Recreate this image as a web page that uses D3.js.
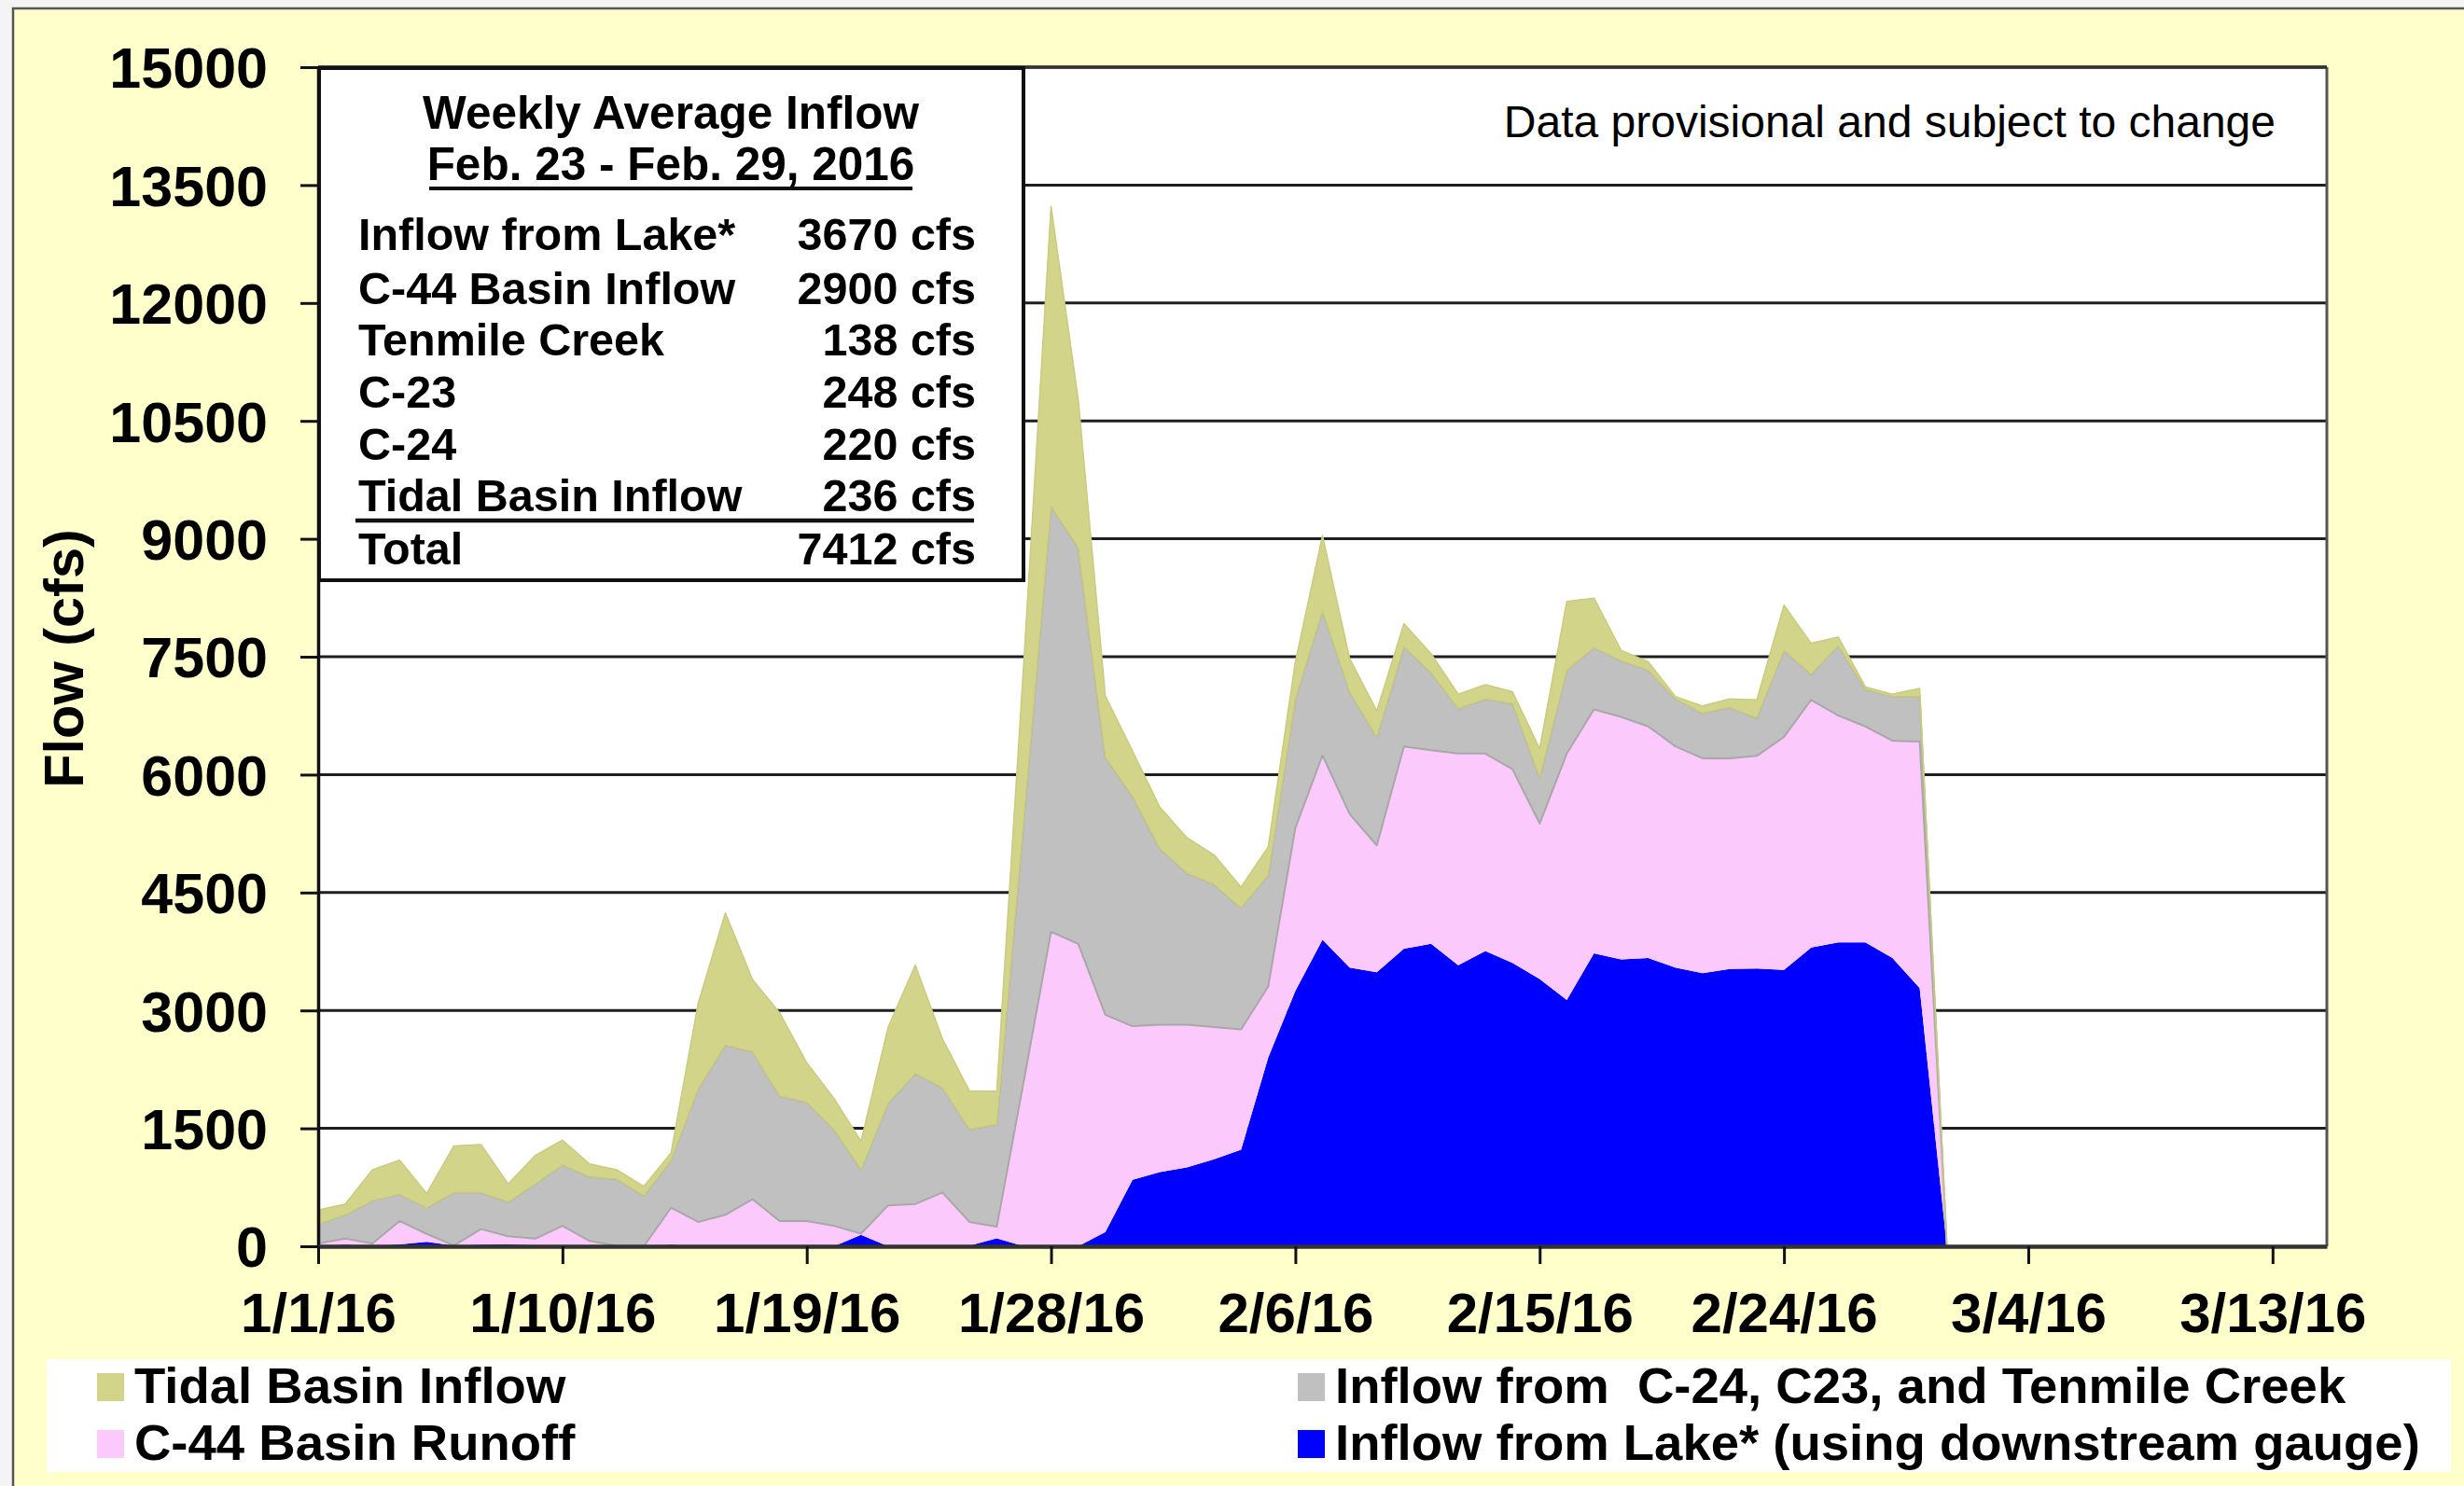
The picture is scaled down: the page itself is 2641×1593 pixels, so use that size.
<!DOCTYPE html>
<html>
<head>
<meta charset="utf-8">
<script src="https://cdn.jsdelivr.net/npm/d3@7"></script>
<style>
html, body { margin: 0; padding: 0; background: #f4f4f4; }
svg { display: block; }
text { font-family: "Liberation Sans", Arial, sans-serif; }
</style>
</head>
<body>
<svg id="chart" width="2641" height="1593"></svg>
<script>
// ---------------- DATA ----------------
const startDate = "2016-01-01";           // first daily value
const endDate = "2016-03-15";             // end of the date axis
const xTickLabels = ["1/1/16","1/10/16","1/19/16","1/28/16","2/6/16","2/15/16","2/24/16","3/4/16","3/13/16"];
const yTicks = [0,1500,3000,4500,6000,7500,9000,10500,12000,13500,15000];

// daily flows (cfs), 1/1/16 ... 3/1/16
const lakeInflow = [5,20,5,25,55,10,20,25,15,0, 0,0,0,20,0,0,0,0,15,0,
  145,0,0,0,10,100,0,0,0,180, 845,944,1004,1107,1228,2400,3250,3900,3545,3485,
  3787,3848,3576,3757,3606,3400,3134,3727,3650,3666, 3545,3473,3527,3533,3515,3799,3866,3866,3666,3285, 0];
const c44Runoff = [31,77,31,296,102,0,198,102,82,260, 67,6,0,470,309,400,599,321,306,260,
  15,520,538,684,299,148,2110,4000,3848,2765, 1955,1875,1815,1682,1531,904,2070,2345,1955,1615,
  2572,2462,2692,2511,2462,1978,3134,3103,3084,2947, 2814,2734,2680,2705,2965,3152,2886,2747,2765,3134, 0];
const c24c23Tenmile = [242,303,545,339,333,674,466,436,696,775, 816,847,641,605,1694,2159,1875,1591,1512,1228,
  814,1301,1658,1331,1179,1301,3340,5415,5042,3275, 2925,2246,1931,1815,1546,1419,1646,1840,1555,1379,
  1270,987,574,695,835,587,1059,787,714,714, 605,575,648,484,1101,327,889,472,563,575, 0];
const tidalInflow = [182,138,393,435,182,593,611,230,363,315, 164,121,121,91,1089,1682,920,1058,502,394,
  363,968,1380,623,484,423,2000,3815,1887,780, 575,525,450,376,265,357,471,955,423,333,
  291,242,182,182,152,365,877,629,133,108, 30,91,109,229,574,393,109,30,30,103, 0];

const seriesKeys = ["lake","c44","c24","tidal"];
const seriesColors = {lake:"#0000FF", c44:"#FCC9FC", c24:"#C0C0C0", tidal:"#D2D589"};

const tableTitle = ["Weekly Average Inflow", "Feb. 23 - Feb. 29, 2016"];
const tableRows = [
  ["Inflow from Lake*", "3670 cfs"],
  ["C-44 Basin Inflow", "2900 cfs"],
  ["Tenmile Creek", "138 cfs"],
  ["C-23", "248 cfs"],
  ["C-24", "220 cfs"],
  ["Tidal Basin Inflow", "236 cfs"],
  ["Total", "7412 cfs"]
];
const legendItems = [
  {key:"tidal", label:"Tidal Basin Inflow"},
  {key:"c24", label:"Inflow from  C-24, C23, and Tenmile Creek"},
  {key:"c44", label:"C-44 Basin Runoff"},
  {key:"lake", label:"Inflow from Lake* (using downstream gauge)"}
];

// ---------------- BUILD ----------------
const parse = d3.timeParse("%Y-%m-%d");
const d0 = parse(startDate);
const table = lakeInflow.map((v, i) => ({
  date: d3.timeDay.offset(d0, i),
  lake: v, c44: c44Runoff[i], c24: c24c23Tenmile[i], tidal: tidalInflow[i]
}));
const tickParse = d3.timeParse("%m/%d/%y");
const xTickDates = xTickLabels.map(s => tickParse(s));

const svg = d3.select("#chart");
const W = 2641, H = 1593;
const plot = {left: 341, right: 2494, top: 72, bottom: 1336};

// outer chart area
svg.append("rect").attr("x", 14).attr("y", 9).attr("width", W).attr("height", H)
  .attr("fill", "#FFFFCC").attr("stroke", "#555").attr("stroke-width", 2.5);

const x = d3.scaleTime().domain([d0, parse(endDate)]).range([plot.left, plot.right]);
const y = d3.scaleLinear().domain([0, 15000]).range([plot.bottom, plot.top]);

// plot background
svg.append("rect").attr("x", plot.left).attr("y", plot.top)
  .attr("width", plot.right - plot.left).attr("height", plot.bottom - plot.top)
  .attr("fill", "#ffffff");

// gridlines
svg.append("g").selectAll("line").data(yTicks.filter(d => d > 0)).join("line")
  .attr("x1", plot.left).attr("x2", plot.right)
  .attr("y1", d => y(d)).attr("y2", d => y(d))
  .attr("stroke", "#1e1e1e").attr("stroke-width", 3);

// stacked areas
const stack = d3.stack().keys(seriesKeys);
const layers = stack(table);
const area = d3.area()
  .x(d => x(d.data.date))
  .y0(d => y(d[0]))
  .y1(d => y(d[1]));
svg.append("g").selectAll("path").data(layers).join("path")
  .attr("d", area)
  .attr("fill", d => seriesColors[d.key])
  .attr("stroke", d => d.key === "c24" ? "#A8A8A8" : (d.key === "tidal" ? "#C8CB80" : "none"))
  .attr("stroke-width", d => d.key === "c24" ? 2 : 1.5)
  .attr("stroke-linejoin", "round");

// plot border (right and top)
svg.append("line").attr("x1", plot.right).attr("x2", plot.right)
  .attr("y1", plot.top).attr("y2", plot.bottom)
  .attr("stroke", "#555").attr("stroke-width", 3);
svg.append("line").attr("x1", plot.left).attr("x2", plot.right)
  .attr("y1", plot.top).attr("y2", plot.top)
  .attr("stroke", "#333").attr("stroke-width", 3.5);

// y axis
const yAxis = svg.append("g").attr("transform", `translate(${plot.left},0)`)
  .call(d3.axisLeft(y).tickValues(yTicks).tickSize(19).tickSizeOuter(0).tickFormat(d3.format("d")));
yAxis.select(".domain").attr("stroke", "#111").attr("stroke-width", 3.5);
yAxis.selectAll(".tick line").attr("stroke", "#111").attr("stroke-width", 3);
yAxis.selectAll(".tick text")
  .attr("x", -54).attr("dy", "0.36em")
  .attr("font-size", 61).attr("font-weight", "bold").attr("fill", "#000");

// x axis
const xAxis = svg.append("g").attr("transform", `translate(0,${plot.bottom})`)
  .call(d3.axisBottom(x).tickValues(xTickDates).tickSize(19).tickSizeOuter(0)
    .tickFormat(d3.timeFormat("%-m/%-d/%y")));
xAxis.select(".domain").attr("stroke", "#333").attr("stroke-width", 4.5);
xAxis.selectAll(".tick line").attr("stroke", "#111").attr("stroke-width", 3);
xAxis.selectAll(".tick text")
  .attr("y", 92).attr("dy", 0)
  .attr("font-size", 60).attr("font-weight", "bold").attr("fill", "#000");

// y axis title
svg.append("text").attr("transform", "translate(89,706) rotate(-90)")
  .attr("text-anchor", "middle").attr("font-size", 59.5).attr("font-weight", "bold")
  .text("Flow (cfs)");

// provisional note
svg.append("text").attr("x", 2439).attr("y", 147).attr("text-anchor", "end")
  .attr("font-size", 48).text("Data provisional and subject to change");

// summary table box
const tb = svg.append("g");
tb.append("rect").attr("x", 342).attr("y", 73).attr("width", 755).attr("height", 549)
  .attr("fill", "#fff").attr("stroke", "#111").attr("stroke-width", 4);
tb.selectAll("text.title").data(tableTitle).join("text").attr("class", "title")
  .attr("x", 719).attr("y", (d, i) => 138 + i * 55)
  .attr("text-anchor", "middle").attr("font-size", 49.5).attr("font-weight", "bold").text(d => d);
tb.append("line").attr("x1", 460).attr("x2", 978).attr("y1", 202).attr("y2", 202)
  .attr("stroke", "#111").attr("stroke-width", 4);
const rowY = [268, 326, 381, 437, 493, 548, 605];
tb.selectAll("text.lab").data(tableRows).join("text").attr("class", "lab")
  .attr("x", 384).attr("y", (d, i) => rowY[i])
  .attr("font-size", 48.5).attr("font-weight", "bold").text(d => d[0]);
tb.selectAll("text.val").data(tableRows).join("text").attr("class", "val")
  .attr("x", 1046).attr("y", (d, i) => rowY[i]).attr("text-anchor", "end")
  .attr("font-size", 48.5).attr("font-weight", "bold").text(d => d[1]);
tb.append("line").attr("x1", 381).attr("x2", 1044).attr("y1", 558).attr("y2", 558)
  .attr("stroke", "#111").attr("stroke-width", 4.5);

// legend
const lg = svg.append("g");
lg.append("rect").attr("x", 50).attr("y", 1457).attr("width", 2577).attr("height", 121).attr("fill", "#fff");
const legX = [104, 1391], legY = [1472, 1533];
const li = lg.selectAll("g.item").data(legendItems).join("g").attr("class", "item")
  .attr("transform", (d, i) => `translate(${legX[i % 2]},${legY[Math.floor(i / 2)]})`);
li.append("rect").attr("width", 29).attr("height", 30).attr("fill", d => seriesColors[d.key]);
li.append("text").attr("x", 40).attr("y", 32).attr("font-size", 54.5).attr("font-weight", "bold")
  .style("white-space", "pre").text(d => d.label);
</script>
</body>
</html>
